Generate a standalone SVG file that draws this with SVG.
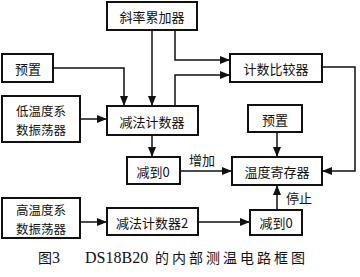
<svg xmlns="http://www.w3.org/2000/svg" width="360" height="277" viewBox="0 0 360 277">
<defs>
<marker id="ah" markerWidth="10" markerHeight="8" refX="10" refY="4" orient="auto" markerUnits="userSpaceOnUse">
<path d="M0,0 L10,4 L0,8 Z" fill="#111"/>
</marker>
<style>
.box{fill:#fff;stroke:#111;stroke-width:2}
.t{font-family:"Noto Sans CJK SC","Noto Sans",sans-serif;font-size:13px;fill:#111;text-anchor:middle;dominant-baseline:central}
.t2{font-family:"Noto Sans CJK SC","Noto Sans",sans-serif;font-size:12.5px;fill:#111;text-anchor:middle;dominant-baseline:central}
.c{fill:none;stroke:#111;stroke-width:1.5}
</style>
</defs>
<rect width="360" height="277" fill="#fff"/>
<g id="connectors">
<path class="c" d="M152,30 V106" marker-end="url(#ah)"/>
<path class="c" d="M53,68 H124 V106" marker-end="url(#ah)"/>
<path class="c" d="M80,119 H107" marker-end="url(#ah)"/>
<path class="c" d="M175,30 V60 H230" marker-end="url(#ah)"/>
<path class="c" d="M175,106 V75 H230" marker-end="url(#ah)"/>
<path class="c" d="M322,67 H355 V171 H322" marker-end="url(#ah)"/>
<path class="c" d="M277,132 V157" marker-end="url(#ah)"/>
<path class="c" d="M152,135 V157" marker-end="url(#ah)"/>
<path class="c" d="M180,171 H232" marker-end="url(#ah)"/>
<path class="c" d="M80,222 H107" marker-end="url(#ah)"/>
<path class="c" d="M198,222 H250" marker-end="url(#ah)"/>
<path class="c" d="M277,210 V185" marker-end="url(#ah)"/>
<text class="t" x="202" y="159">增加</text>
<text class="t" x="299" y="197">停止</text>
</g>
<g id="n1"><rect class="box" x="107" y="2" width="90" height="28"/><text class="t" x="152" y="16">斜率累加器</text></g>
<g id="n2"><rect class="box" x="2" y="54" width="51" height="28"/><text class="t" x="28" y="68">预置</text></g>
<g id="n3"><rect class="box" x="2" y="96" width="78" height="46"/><text class="t2" x="41" y="110">低温度系</text><text class="t2" x="41" y="129">数振荡器</text></g>
<g id="n4"><rect class="box" x="107" y="106" width="91" height="29"/><text class="t" x="152" y="121">减法计数器</text></g>
<g id="n5"><rect class="box" x="230" y="54" width="92" height="28"/><text class="t" x="276" y="68">计数比较器</text></g>
<g id="n6"><rect class="box" x="248" y="105" width="54" height="27"/><text class="t" x="275" y="119">预置</text></g>
<g id="n7"><rect class="box" x="127" y="157" width="53" height="27"/><text class="t" x="153" y="171">减到0</text></g>
<g id="n8"><rect class="box" x="232" y="157" width="90" height="28"/><text class="t" x="277" y="171">温度寄存器</text></g>
<g id="n9"><rect class="box" x="2" y="198" width="78" height="40"/><text class="t2" x="41" y="209">高温度系</text><text class="t2" x="41" y="228">数振荡器</text></g>
<g id="n10"><rect class="box" x="107" y="208" width="91" height="27"/><text class="t" x="152" y="222">减法计数器2</text></g>
<g id="n11"><rect class="box" x="250" y="210" width="52" height="25"/><text class="t" x="276" y="222">减到0</text></g>
<text x="38" y="263" style="font-family:'Noto Sans CJK SC',sans-serif;font-size:14px;fill:#111">图<tspan font-family="Liberation Serif" font-size="16">3</tspan></text>
<text x="85" y="263" style="font-family:'Liberation Serif',serif;font-size:16px;fill:#111">DS18B20<tspan x="155" style="font-family:'Noto Sans CJK SC',sans-serif;font-size:14px;letter-spacing:3px">的内部测温电路框图</tspan></text>
</svg>
